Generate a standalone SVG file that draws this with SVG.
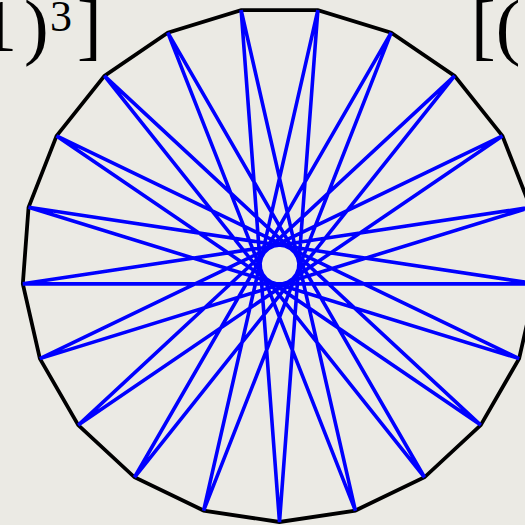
<svg xmlns="http://www.w3.org/2000/svg" width="525" height="525" viewBox="0 0 525 525">
<style>
.bg{fill:#EBEAE4}
.outline{fill:none;stroke:#000;stroke-width:3.8;stroke-linejoin:miter}
.star{fill:none;stroke:#0000FF;stroke-width:3.6;stroke-linejoin:miter}
.t{font-family:"Liberation Serif","Times New Roman",serif;fill:#000}
</style>
<rect class="bg" x="0" y="0" width="525" height="525"/>
<g id="text">
<text class="t" font-size="74" y="51"><tspan x="-20">1</tspan><tspan x="24">)</tspan><tspan x="50" y="31" font-size="44">3</tspan><tspan x="77" y="51">]</tspan></text>
<text class="t" font-size="74" x="471" y="51">[(</text>
</g>
<g id="polygon">
<polygon class="outline" points="279.5,522 203.63,510.56 134.5,477.27 78.26,425.09 39.89,358.64 22.82,283.84 28.55,207.32 56.58,135.9 104.42,75.91 167.82,32.69 241.14,10.08 317.86,10.08 391.18,32.69 454.58,75.91 502.42,135.9 530.45,207.32 536.18,283.84 519.11,358.64 480.74,425.09 424.5,477.27 355.37,510.56"/>
</g>
<g id="star">
<polygon class="star" points="279.5,522 241.14,10.08 355.37,510.56 167.82,32.69 424.5,477.27 104.42,75.91 480.74,425.09 56.58,135.9 519.11,358.64 28.55,207.32 536.18,283.84 22.82,283.84 530.45,207.32 39.89,358.64 502.42,135.9 78.26,425.09 454.58,75.91 134.5,477.27 391.18,32.69 203.63,510.56 317.86,10.08"/>
</g>
</svg>
